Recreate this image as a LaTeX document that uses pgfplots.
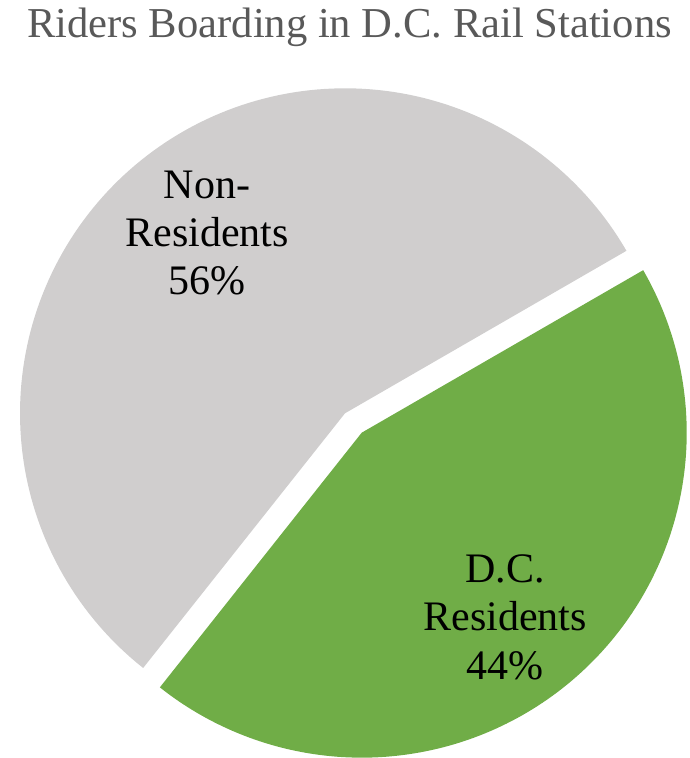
\documentclass[border=0pt]{standalone}
\usepackage{pgfplots}
\usepackage{pgfplotstable}
\pgfplotsset{compat=1.18}
\usepackage{fontspec}
\setmainfont{Liberation Serif}
\definecolor{piegray}{HTML}{D0CECE}
\definecolor{piegreen}{HTML}{70AD47}
\definecolor{titlegray}{HTML}{595959}

\pgfplotstableread{
label value
DC 44
Non 56
}\pietable

\begin{document}
\begin{tikzpicture}
\pgfplotstablegetelem{0}{value}\of\pietable
\pgfmathsetmacro{\valDC}{\pgfplotsretval}
\pgfplotstablegetelem{1}{value}\of\pietable
\pgfmathsetmacro{\valNon}{\pgfplotsretval}
% geometry (1pt = 1px of the reference)
\pgfmathsetmacro{\R}{325}
\pgfmathsetmacro{\cx}{345}
\pgfmathsetmacro{\cy}{344.7}
\pgfmathsetmacro{\startang}{30}
\pgfmathsetmacro{\dcstart}{\startang-\valDC*3.6}
\pgfmathsetmacro{\nonend}{\startang+\valNon*3.6}
\pgfmathsetmacro{\bis}{(\startang+\dcstart)/2}
\pgfmathsetmacro{\gx}{\cx+25.6*cos(\bis)}
\pgfmathsetmacro{\gy}{\cy+25.6*sin(\bis)}
\useasboundingbox (0,0) rectangle (689pt,758pt);
\begin{axis}[
  at={(0,0)}, anchor=south west,
  x=1pt, y=1pt, xmin=0, xmax=689, ymin=0, ymax=758,
  scale only axis, hide axis, clip=false,
]
\addplot[draw=none, fill=piegray, domain=\startang:\nonend, samples=150]
  ({\cx+\R*cos(x)}, {\cy+\R*sin(x)}) -- (axis cs:\cx,\cy) -- cycle;
\addplot[draw=none, fill=piegreen, domain=\dcstart:\startang, samples=150]
  ({\gx+\R*cos(x)}, {\gy+\R*sin(x)}) -- (axis cs:\gx,\gy) -- cycle;

\node[anchor=base, text=titlegray, font=\fontsize{42.6}{48}\selectfont]
  at (axis cs:349.5,720.7) {Riders Boarding in D.C. Rail Stations};

\node[anchor=base, font=\fontsize{42}{48}\selectfont] at (axis cs:207,559.7) {Non-};
\node[anchor=base, font=\fontsize{42}{48}\selectfont] at (axis cs:207,511.3) {Residents};
\node[anchor=base, font=\fontsize{42}{48}\selectfont] at (axis cs:207,463.0) {56\%};

\node[anchor=base, font=\fontsize{42}{48}\selectfont] at (axis cs:505,175.7) {D.C.};
\node[anchor=base, font=\fontsize{42}{48}\selectfont] at (axis cs:505,127.3) {Residents};
\node[anchor=base, font=\fontsize{42}{48}\selectfont] at (axis cs:505,78.7) {44\%};
\end{axis}
\end{tikzpicture}
\end{document}
